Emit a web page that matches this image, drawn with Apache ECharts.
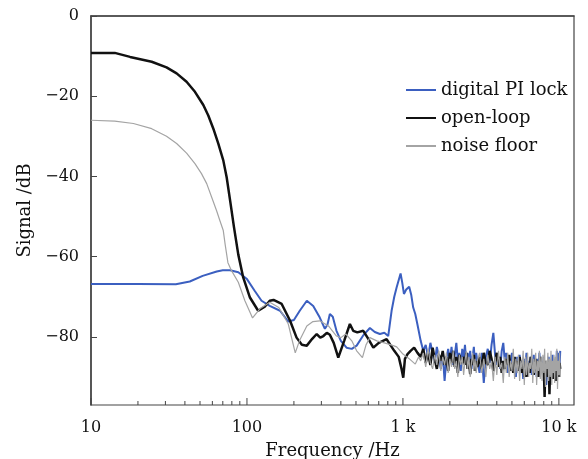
<!DOCTYPE html>
<html>
<head>
<meta charset="utf-8">
<script src="https://cdn.jsdelivr.net/npm/echarts@6/dist/echarts.min.js"></script>
<style>
html, body { margin: 0; padding: 0; background: #fff; }
#main { width: 588px; height: 459px; }
</style>
</head>
<body>
<div id="main"></div>
<script>
// low / mid frequency part, each trace sampled on its own points
var lockFreq = [10, 20, 35, 43, 52, 64, 70, 78, 88, 100, 112, 124, 140, 163, 184, 200, 218, 242, 266, 293, 316, 328, 340, 355, 375, 400, 435, 470, 505, 560, 614, 660, 712, 760, 805, 846, 880, 911, 966, 990, 1015, 1050, 1097, 1130, 1164, 1200, 1240];
var lockDb = [-66.8, -66.8, -66.9, -66.2, -64.8, -63.7, -63.4, -63.4, -63.9, -65.6, -68.5, -71, -72.3, -73.5, -76.2, -75.8, -73.5, -71, -72.3, -75.2, -78, -77, -74.3, -75, -78.5, -81, -82.7, -83, -82.2, -79.5, -77.8, -78.8, -79.3, -79, -79.8, -73.5, -70, -67.7, -64.2, -66.5, -69.3, -68.2, -67.5, -69.5, -72.7, -74.3, -77];

var openFreq = [10, 14.2, 17.8, 24.5, 30.5, 35.4, 41, 46.4, 52.5, 56.5, 61.4, 65.5, 70.5, 74.1, 78.5, 82.6, 88, 94.6, 104.5, 118, 130, 140, 148, 167, 189, 208, 225, 242, 262, 280, 295, 309, 325, 340, 360, 385, 394, 420, 457, 480, 510, 557, 600, 646, 700, 786, 830, 880, 940, 980, 1005, 1030, 1070, 1120, 1180, 1240];
var openDb = [-9.2, -9.2, -10.2, -11.4, -12.8, -14.3, -16.4, -18.9, -22.2, -24.8, -28.5, -31.8, -36, -40.2, -46.8, -52.7, -59.5, -65.2, -70.2, -73.5, -72.5, -71, -70.8, -71.8, -76, -80.2, -82, -82.2, -80.5, -79.3, -80.2, -79.8, -79, -79.5, -81.5, -85.2, -85.2, -81, -76.8, -78.5, -78.9, -78.5, -80.5, -82.7, -81.5, -80.6, -82, -83.5, -85, -88, -90.2, -85.5, -84.3, -83.5, -82.7, -84];

var floorFreq = [10, 14.2, 18.7, 24.5, 30.5, 35.4, 41, 46.4, 51.1, 55.2, 59.4, 63.8, 67, 70.5, 72.5, 75.5, 79.6, 88, 97, 108.6, 121, 140, 160, 184, 204, 217, 242, 265, 293, 333, 375, 400, 430, 470, 505, 550, 580, 614, 680, 760, 840, 912, 1000, 1100, 1200, 1260];
var floorDb = [-26, -26.2, -26.8, -28.1, -30, -31.8, -34.2, -36.8, -39.3, -41.8, -45.2, -48.5, -51, -53.5, -57, -61.5, -63.5, -66.4, -71, -75.3, -73, -71.4, -72.7, -76.8, -84, -81, -77.3, -76.2, -76, -77.3, -79.8, -80.2, -79.3, -81, -83.5, -85.2, -82, -80.2, -81, -81.5, -82, -82.5, -84.3, -85.5, -86.8, -85];

// noisy high frequency part, common sampling
var hfFreq = [1300, 1350, 1400, 1450, 1500, 1550, 1600, 1650, 1700, 1750, 1800, 1850, 1900, 1950, 2000, 2050, 2100, 2150, 2200, 2250, 2300, 2350, 2400, 2450, 2500, 2550, 2600, 2650, 2700, 2750, 2800, 2850, 2900, 2950, 3000,
  3100, 3200, 3300, 3400, 3500, 3600, 3700, 3800, 3900, 4000, 4100, 4200, 4300, 4400, 4500, 4600, 4700, 4800, 4900, 5000, 5100, 5200, 5300, 5400, 5500, 5600, 5700, 5800, 5900, 6000,
  6100, 6200, 6300, 6400, 6500, 6600, 6700, 6800, 6900, 7000, 7100, 7200, 7300, 7400, 7500, 7600, 7700, 7800, 7900, 8000, 8100, 8200, 8300, 8400, 8500, 8600, 8700, 8800, 8900, 9000,
  9100, 9200, 9300, 9400, 9500, 9600, 9700, 9800, 9900, 10000, 10100, 10200];

var lockHf = [-81, -83.5, -82, -85, -81.5, -84, -86.5, -82.5, -85, -88,
  -84, -91, -85.5, -83, -86, -82.5, -87, -84.5, -81.5, -86,
  -84, -88.5, -83, -85.5, -82, -87, -84, -86.5, -83.5, -88,
  -85, -82.5, -87.5, -84, -86,
  -89, -84, -91.5, -85, -83, -86.5, -82, -79, -84.5, -87,
  -85, -88, -83.5, -81.5, -86, -84, -89, -85.5, -87.5, -84,
  -88, -86, -90, -85, -87, -84.5, -88.5, -86, -90.5, -85.5,
  -87, -84, -89, -86, -88, -85, -89.5, -86.5, -84.5, -88,
  -86, -90, -85.5, -88.5, -84, -87.5, -89, -86, -88, -85,
  -90, -87, -92, -86.5, -89, -85, -88, -90.5, -86, -88.5,
  -84.5, -89, -86.5, -90, -85.5, -88, -83.5, -89.5, -87, -84,
  -88, -83.5];

var openHf = [-85, -83, -86.5, -84, -87, -82.7, -85.5, -88, -84.5, -86,
  -83.5, -87, -85, -88.5, -84, -86.5, -83.5, -87.5, -85, -89,
  -84.5, -86, -86.5, -85, -87, -84, -88, -86, -89.3, -85.5,
  -87, -84.5, -88.5, -86, -87.5,
  -85, -88, -84, -86.5, -87, -83.5, -85.5, -88.5, -86, -84,
  -87.5, -85, -89, -86, -88, -85.5, -87, -84.5, -88.5, -86.5,
  -89, -85, -87.5, -86, -88.5, -85, -87, -89, -86, -90,
  -87, -90, -88, -86.5, -89, -85, -88, -86.5, -89.5, -87,
  -85.5, -88.5, -86, -90, -87, -85, -88.5, -86.5, -89, -87.5,
  -95, -86, -89, -87.5, -90, -86, -94.3, -87, -89.5, -86.5,
  -88, -90.5, -86.5, -89, -87, -91, -86, -88.5, -87.5, -90,
  -86.5, -88];

var floorHf = [-86, -84, -87.5, -83, -86.5, -88, -84.5, -87, -83.5, -88.5,
  -85, -87, -84, -89, -85.5, -87.5, -83.5, -88, -86, -90,
  -84.5, -87, -85, -89.5, -86, -83.5, -88, -85, -90, -86.5,
  -84, -88.5, -85.5, -89, -86,
  -84, -89, -85.5, -90, -84.5, -88, -86, -91, -85, -89.5,
  -83.5, -88, -86.5, -91.5, -85, -89, -84, -90, -86, -88.5,
  -83, -90.5, -85.5, -89, -84.5, -91, -86, -88, -83.5, -92,
  -85, -89.5, -84, -90, -86.5, -88, -83, -91.5, -85.5, -89,
  -84, -92, -86, -88.5, -83.5, -90.5, -85, -91, -84.5, -89,
  -83, -92.5, -86, -88, -84, -91, -85.5, -90, -83.5, -92,
  -86, -89, -84.5, -91.5, -85, -88.5, -83, -93, -86, -89.5,
  -84, -90];

var xMajor = [10, 100, 1000, 10000];
var xMinor = [20, 30, 40, 50, 60, 70, 80, 90, 200, 300, 400, 500, 600, 700, 800, 900, 2000, 3000, 4000, 5000, 6000, 7000, 8000, 9000];
var yTicks = [0, -20, -40, -60, -80];
var fMin = 10, fMax = 12500, dbMin = -97, dbMax = 0;

function pairs(fr, db) {
    return fr.map(function (f, i) { return [f, db[i]]; });
}

var font = 'DejaVu Serif';
var chart = echarts.init(document.getElementById('main'));

// short inward tick marks on the log axis, placed through the axis scale
function tickSeries(vals, len) {
    return {
        type: 'custom',
        silent: true,
        z: 5,
        data: vals.map(function (f) { return [f, dbMin]; }),
        renderItem: function (params, api) {
            var p = api.coord([api.value(0), api.value(1)]);
            return {
                type: 'line',
                shape: { x1: p[0], y1: p[1], x2: p[0], y2: p[1] - len },
                style: { stroke: '#444', lineWidth: 1 }
            };
        }
    };
}

var option = {
    animation: false,
    grid: { left: 91, top: 16, right: 14, bottom: 54, show: true, borderColor: '#444', borderWidth: 1.2, outerBoundsMode: 'none' },
    legend: {
        data: ['digital PI lock', 'open-loop', 'noise floor'],
        orient: 'vertical',
        left: 400,
        top: 76,
        itemWidth: 30,
        itemHeight: 12,
        itemGap: 10,
        itemStyle: { opacity: 0 },
        textStyle: { fontFamily: font, fontSize: 18, color: '#111' }
    },
    xAxis: {
        type: 'log',
        logBase: 10,
        min: fMin,
        max: fMax,
        axisLine: { lineStyle: { color: '#444', width: 1.5 } },
        axisTick: { show: false },
        axisLabel: {
            customValues: xMajor,
            margin: 15,
            fontFamily: font, fontSize: 16, color: '#111',
            formatter: function (v) { return v >= 1000 ? (v / 1000) + ' k' : String(v); }
        },
        splitLine: { show: false },
        name: 'Frequency /Hz',
        nameLocation: 'middle',
        nameGap: 37,
        nameTextStyle: { fontFamily: font, fontSize: 18, color: '#111' }
    },
    yAxis: {
        type: 'value',
        min: dbMin,
        max: dbMax,
        axisLine: { show: true, lineStyle: { color: '#444', width: 1.5 } },
        axisTick: { inside: true, length: 6, customValues: yTicks, lineStyle: { color: '#444' } },
        axisLabel: {
            customValues: yTicks,
            margin: 12,
            fontFamily: font, fontSize: 16, color: '#111',
            formatter: function (v) { return v === 0 ? '0' : '\u2212' + Math.abs(v); }
        },
        splitLine: { show: false },
        name: 'Signal /dB',
        nameLocation: 'middle',
        nameGap: 48,
        nameTextStyle: { fontFamily: font, fontSize: 18, color: '#111' }
    },
    series: [{
        name: 'digital PI lock',
        type: 'line',
        symbol: 'none',
        sampling: 'none',
        color: '#3b5fc0',
        lineStyle: { width: 2 },
        data: pairs(lockFreq, lockDb).concat(pairs(hfFreq, lockHf))
    }, {
        name: 'open-loop',
        type: 'line',
        symbol: 'none',
        sampling: 'none',
        color: '#111111',
        lineStyle: { width: 2.5 },
        data: pairs(openFreq, openDb).concat(pairs(hfFreq, openHf))
    }, {
        name: 'noise floor',
        type: 'line',
        symbol: 'none',
        sampling: 'none',
        color: '#a4a4a4',
        lineStyle: { width: 1.2 },
        data: pairs(floorFreq, floorDb).concat(pairs(hfFreq, floorHf))
    }, tickSeries(xMajor, 7), tickSeries(xMinor, 4)]
};

chart.setOption(option);
</script>
</body>
</html>
